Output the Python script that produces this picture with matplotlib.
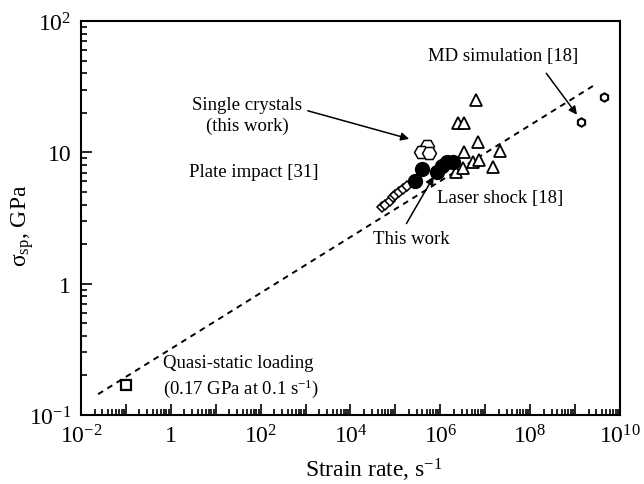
import matplotlib
matplotlib.use('Agg')
import matplotlib.pyplot as plt
import matplotlib.ticker as mticker
import numpy as np

plt.rcParams['font.family'] = ['Liberation Serif', 'DejaVu Serif']
plt.rcParams['mathtext.fontset'] = 'custom'
plt.rcParams['mathtext.rm'] = 'Liberation Serif'
plt.rcParams['mathtext.it'] = 'Liberation Serif:italic'

# data (strain rate s^-1, spall strength GPa)
quasi_rate = [0.1]
quasi_sp = [0.17]

plate_rate = [5.0e4, 5.9e4, 7.4e4, 8.7e4, 9.8e4, 1.23e5, 1.51e5, 1.79e5]
plate_sp = [3.81, 3.97, 4.28, 4.59, 4.73, 5.01, 5.25, 5.5]

this_rate = [2.75e5, 3.87e5, 8.6e5, 1.08e6, 1.44e6, 1.9e6]
this_sp = [6.08, 7.46, 7.05, 7.9, 8.4, 8.4]

crystal_rate = [5.16e5, 3.73e5, 5.55e5]
crystal_sp = [11.2, 10.0, 9.9]

laser_rate = [6.3e6, 2.53e6, 3.39e6, 6.84e6, 3.39e6, 2.15e7, 5.28e6, 7.43e6, 1.52e7, 2.25e6, 3.27e6]
laser_sp = [25.0, 16.7, 16.7, 12.0, 10.1, 10.3, 8.5, 8.8, 7.8, 7.1, 7.55]

md_rate = [4.47e9, 1.35e9]
md_sp = [26.5, 16.9]

fit_rate = [0.024, 3.1e9]
fit_exp = 0.213
fit_sp0 = 0.144

x_ticks = [10.0 ** k for k in range(-2, 11)]
x_labels = [r'$10^{-2}$', '', '1', '', r'$10^{2}$', '', r'$10^{4}$', '',
            r'$10^{6}$', '', r'$10^{8}$', '', r'$10^{10}$']
y_ticks = [0.1, 1, 10, 100]
y_labels = [r'$10^{-1}$', '1', '10', r'$10^{2}$']

fig = plt.figure(figsize=(6.44, 4.85), dpi=100)
ax = fig.add_axes([0.1258, 0.1423, 0.8369, 0.8123])
ax.set_xscale('log')
ax.set_yscale('log')
ax.set_xlim(1e-2, 1e10)
ax.set_ylim(0.1, 100)

fx = np.array(fit_rate)
fy = fit_sp0 * (fx / fit_rate[0]) ** fit_exp
ax.plot(fx, fy, color='black', lw=1.4, ls=(0, (3, 2.6)))

ax.plot(quasi_rate, quasi_sp, ls='none', marker='s', ms=6.5, mfc='white', mec='black', mew=1.6)
ax.plot(plate_rate, plate_sp, ls='none', marker='D', ms=5, mfc='white', mec='black', mew=1.1)
ax.plot(laser_rate, laser_sp, ls='none', marker='^', ms=8, mfc='white', mec='black', mew=1.3)
ax.plot(crystal_rate, crystal_sp, ls='none', marker='H', ms=10, mfc='white', mec='black', mew=1.1)
ax.plot(this_rate, this_sp, ls='none', marker='o', ms=10, mfc='black', mec='black')
ax.plot(md_rate, md_sp, ls='none', marker='h', ms=6, mfc='white', mec='black', mew=1.5)

fs = 13.5
ax.text(2.5e7, 55, 'MD simulation [18]', fontsize=fs, ha='center', va='center')
ax.annotate('', xy=(1.2e9, 18.6), xytext=(2.1e8, 41.6),
            arrowprops=dict(arrowstyle='-|>', color='black', lw=1.1, mutation_scale=12))
ax.text(50, 19.2, 'Single crystals\n(this work)', fontsize=fs, ha='center', va='center',
        linespacing=1.25)
ax.annotate('', xy=(2.32e5, 12.5), xytext=(975, 21),
            arrowprops=dict(arrowstyle='-|>', color='black', lw=1.1, mutation_scale=12))
ax.text(71, 7.2, 'Plate impact [31]', fontsize=fs, ha='center', va='center')
ax.text(8.5e5, 4.57, 'Laser shock [18]', fontsize=fs, ha='left', va='center')
ax.text(3.18e4, 2.19, 'This work', fontsize=fs, ha='left', va='center')
ax.annotate('', xy=(7.66e5, 6.84), xytext=(1.64e5, 2.75),
            arrowprops=dict(arrowstyle='-|>', color='black', lw=1.1, mutation_scale=12))
ax.text(0.67, 0.196, 'Quasi-static loading\n(0.17 GPa at 0.1 s$^{-1}$)', fontsize=fs,
        ha='left', va='center', linespacing=1.3)

ax.xaxis.set_major_locator(mticker.FixedLocator(x_ticks))
ax.xaxis.set_major_formatter(mticker.FixedFormatter(x_labels))
ax.xaxis.set_minor_locator(mticker.LogLocator(base=10, subs=np.arange(2, 10), numticks=30))
ax.xaxis.set_minor_formatter(mticker.NullFormatter())
ax.yaxis.set_major_locator(mticker.FixedLocator(y_ticks))
ax.yaxis.set_major_formatter(mticker.FixedFormatter(y_labels))
ax.yaxis.set_minor_locator(mticker.LogLocator(base=10, subs=np.arange(2, 10), numticks=30))
ax.yaxis.set_minor_formatter(mticker.NullFormatter())

ax.tick_params(which='both', direction='in', top=False, right=False, labelsize=17, width=1.2)
ax.tick_params(which='major', length=8)
ax.tick_params(axis='x', which='major', pad=7)
ax.tick_params(axis='y', which='major', pad=7)
ax.tick_params(which='minor', length=4.5)
for s in ax.spines.values():
    s.set_linewidth(1.5)

ax.set_xlabel('Strain rate, s$^{-1}$', fontsize=17)
ax.set_ylabel('σ$_{\\rm sp}$, GPa', fontsize=17)
ax.xaxis.set_label_coords(0.544, -0.103)
ax.yaxis.set_label_coords(-0.083, 0.482)

fig.savefig('out.png', dpi=100)
